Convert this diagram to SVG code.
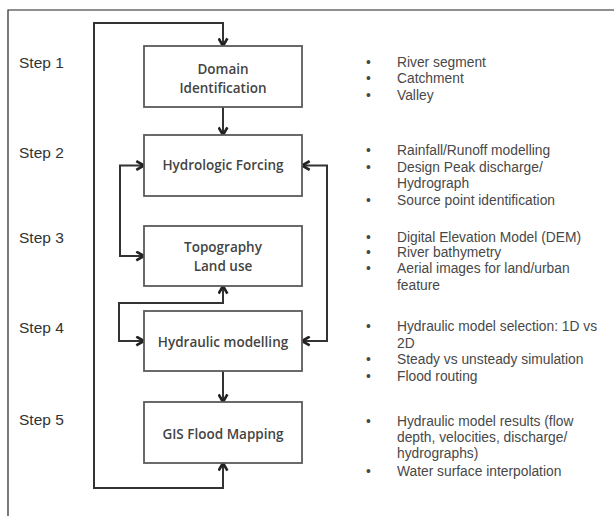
<svg xmlns="http://www.w3.org/2000/svg" width="614" height="516" viewBox="0 0 614 516">
<defs>
<style>
.frame{fill:none;stroke:#222;stroke-width:1.2}
.box{fill:#fff;stroke:#5a5a5a;stroke-width:1.8}
.btxt{font-family:"Open Sans","Liberation Sans",sans-serif;font-size:13.5px;font-weight:600;fill:#444;text-anchor:middle}
.step{font-family:"Liberation Sans",Arial,sans-serif;font-size:15.5px;fill:#333}
.bul{font-family:"Liberation Sans",Arial,sans-serif;font-size:13.8px;fill:#484848}
.conn{fill:none;stroke:#333;stroke-width:2;stroke-linejoin:miter}
</style>
<marker id="ah" viewBox="0 0 10 10" refX="9" refY="5" markerWidth="11" markerHeight="11" markerUnits="userSpaceOnUse" orient="auto">
<path d="M2,1 L9,5 L2,9" fill="none" stroke="#222" stroke-width="2.4"/>
</marker>
</defs>
<rect width="614" height="516" fill="#fff"/>
<path class="frame" d="M8,516 V10 H614"/>
<g id="steps">
<text class="step" x="19" y="68">Step 1</text>
<text class="step" x="19" y="158">Step 2</text>
<text class="step" x="19" y="243">Step 3</text>
<text class="step" x="19" y="333">Step 4</text>
<text class="step" x="19" y="425">Step 5</text>
</g>
<g id="connectors">
<path class="conn" d="M223,463 V488 H94 V23 H223 V46" marker-end="url(#ah)"/>
<path class="conn" d="M223,488 V463" marker-end="url(#ah)"/>
<path class="conn" d="M223,107 V135" marker-end="url(#ah)"/>
<path class="conn" d="M144,256 H120 V165.5 H144" marker-end="url(#ah)"/>
<path class="conn" d="M120,165.5 V256 H144" marker-end="url(#ah)"/>
<path class="conn" d="M144,341 H119 V303 H223 V286" marker-end="url(#ah)"/>
<path class="conn" d="M223,303 H119 V341 H144" marker-end="url(#ah)"/>
<path class="conn" d="M302,341 H327 V165.5 H302" marker-end="url(#ah)"/>
<path class="conn" d="M327,165.5 V341 H302" marker-end="url(#ah)"/>
<path class="conn" d="M223,371 V402" marker-end="url(#ah)"/>
</g>
<g id="n1">
<rect class="box" x="144" y="46" width="158" height="61"/>
<text class="btxt" x="223" y="74">Domain</text>
<text class="btxt" x="223" y="93">Identification</text>
</g>
<g id="n2">
<rect class="box" x="144" y="135" width="158" height="61"/>
<text class="btxt" x="223" y="170">Hydrologic Forcing</text>
</g>
<g id="n3">
<rect class="box" x="144" y="226" width="158" height="60"/>
<text class="btxt" x="223" y="252">Topography</text>
<text class="btxt" x="223" y="271">Land use</text>
</g>
<g id="n4">
<rect class="box" x="144" y="311" width="158" height="60"/>
<text class="btxt" x="223" y="347">Hydraulic modelling</text>
</g>
<g id="n5">
<rect class="box" x="144" y="402" width="158" height="61"/>
<text class="btxt" x="223" y="439">GIS Flood Mapping</text>
</g>
<g id="bullets" class="bul">
<text x="366" y="67">•</text><text x="397" y="67">River segment</text>
<text x="366" y="83">•</text><text x="397" y="83">Catchment</text>
<text x="366" y="100">•</text><text x="397" y="100">Valley</text>
<text x="366" y="155">•</text><text x="397" y="155">Rainfall/Runoff modelling</text>
<text x="366" y="172">•</text><text x="397" y="172">Design Peak discharge/</text>
<text x="397" y="188">Hydrograph</text>
<text x="366" y="205">•</text><text x="397" y="205">Source point identification</text>
<text x="366" y="242">•</text><text x="397" y="242">Digital Elevation Model (DEM)</text>
<text x="366" y="257">•</text><text x="397" y="257">River bathymetry</text>
<text x="366" y="273">•</text><text x="397" y="273">Aerial images for land/urban</text>
<text x="397" y="290">feature</text>
<text x="366" y="331">•</text><text x="397" y="331">Hydraulic model selection: 1D vs</text>
<text x="397" y="348">2D</text>
<text x="366" y="364">•</text><text x="397" y="364">Steady vs unsteady simulation</text>
<text x="366" y="381">•</text><text x="397" y="381">Flood routing</text>
<text x="366" y="426">•</text><text x="397" y="426">Hydraulic model results (flow</text>
<text x="397" y="442">depth, velocities, discharge/</text>
<text x="397" y="458">hydrographs)</text>
<text x="366" y="476">•</text><text x="397" y="476">Water surface interpolation</text>
</g>
</svg>
